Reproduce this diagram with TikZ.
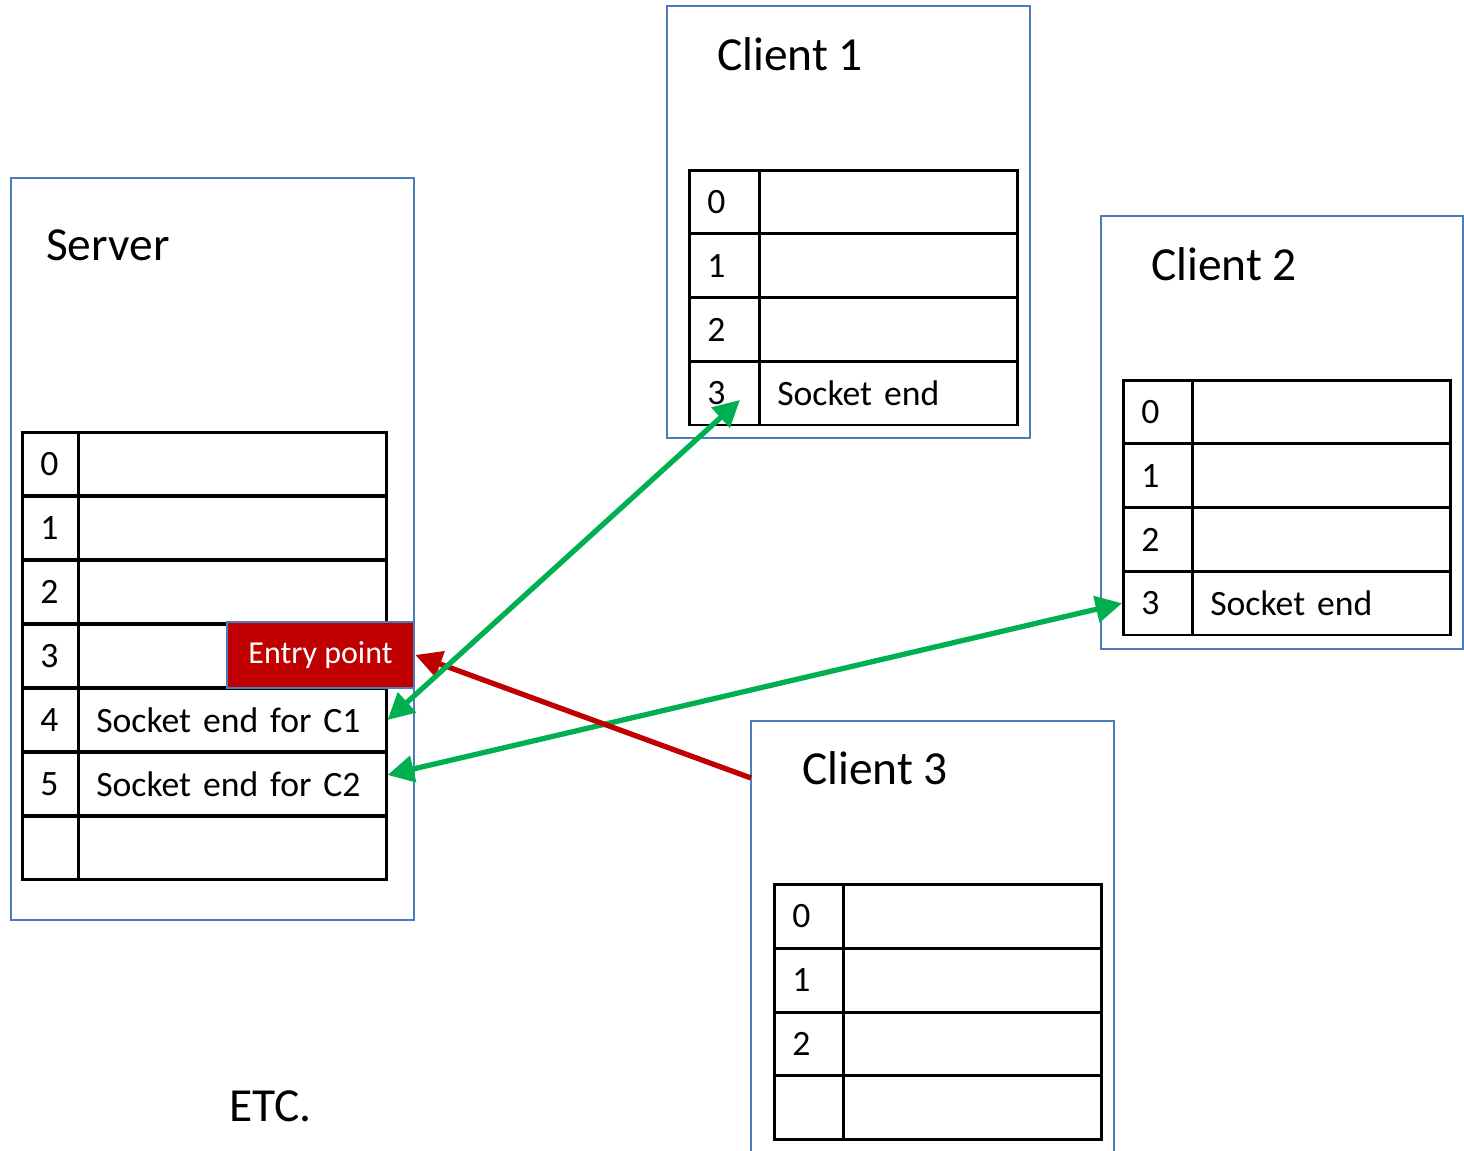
\documentclass[tikz,border=0pt]{standalone}
\usepackage{fontspec}
\setmainfont{Carlito}
\usetikzlibrary{arrows.meta}

\definecolor{boxblue}{RGB}{74,126,187}
\definecolor{linkgreen}{RGB}{0,176,80}
\definecolor{entryred}{RGB}{192,0,0}

\tikzset{
	hostbox/.style={draw=boxblue, line width=1.6pt},
	cell/.style={draw, line width=1.5pt, anchor=west, minimum height=1.27cm, inner xsep=0.36cm, inner ysep=0pt, text width=#1, align=left, font=\fontsize{20.3}{24}\selectfont},
	title/.style={anchor=west, font=\fontsize{27}{32}\selectfont},
	link/.style={line width=3pt, linkgreen, {Triangle[length=15pt,width=15pt]}-{Triangle[length=15pt,width=15pt]}},
	feed/.style={line width=3pt, entryred, -{Triangle[length=15pt,width=15pt]}}
}

\begin{document}
\begin{tikzpicture}[x=0.02cm, y=-0.02cm]
		\clip (0,0) rectangle (1464,1151);
		% server
		\draw[hostbox] (11,178) rectangle (414,920);
		\node[title] (srv) at (40,245) {Server};
		\foreach \i/\n/\t in {0/0/{},1/1/{},2/2/{},3/3/{},4/4/Socket end for C1,5/5/Socket end for C2,6/{}/{}}{
			\node[cell=0.4cm] (sn\i) at (21,464+64*\i) {\n};
			\node[cell=5.44cm] (st\i) at (77,464+64*\i) {\mbox{\t}};
		}
		\node[draw=boxblue, fill=entryred, line width=1.6pt, text=white, minimum width=3.74cm, minimum height=1.32cm, font=\fontsize{18.2}{22}\selectfont] (entry) at (320.5,655) {Entry point};
		% clients
		\draw[hostbox] (667,6) rectangle (1030,438);
		\node[title] (cl1) at (711,54) {Client 1};
		\foreach \i/\t in {0/{},1/{},2/{},3/Socket end}{
			\node[cell=0.68cm] (c1n\i) at (688,202+63.75*\i) {\i};
			\node[cell=4.44cm] (c1t\i) at (758,202+63.75*\i) {\t};
		}
		\draw[hostbox] (1101,216) rectangle (1463,649);
		\node[title] (cl2) at (1145,264) {Client 2};
		\foreach \i/\t in {0/{},1/{},2/{},3/Socket end}{
			\node[cell=0.66cm] (c2n\i) at (1122,412+63.75*\i) {\i};
			\node[cell=4.44cm] (c2t\i) at (1191,412+63.75*\i) {\t};
		}
		\draw[hostbox] (751,721) rectangle (1114,1300);
		\node[title] (cl3) at (796,768) {Client 3};
		\foreach \i/\n in {0/0,1/1,2/2,3/{}}{
			\node[cell=0.66cm] (c3n\i) at (773,916.5+63.75*\i) {\n};
			\node[cell=4.44cm] (c3t\i) at (842,916.5+63.75*\i) {};
		}
		\node[title] (etc) at (223,1106) {ETC.};
		% connections
		\coordinate (c3in) at (751,778);
		\coordinate (c1in) at (740,400);
		\draw[link] ([yshift=0.18cm]st5.east) -- (c2n3.west);
		\draw[feed] (c3in) -- (entry.east);
		\draw[link] (st4.east) -- (c1in);
		\end{tikzpicture}
\end{document}
